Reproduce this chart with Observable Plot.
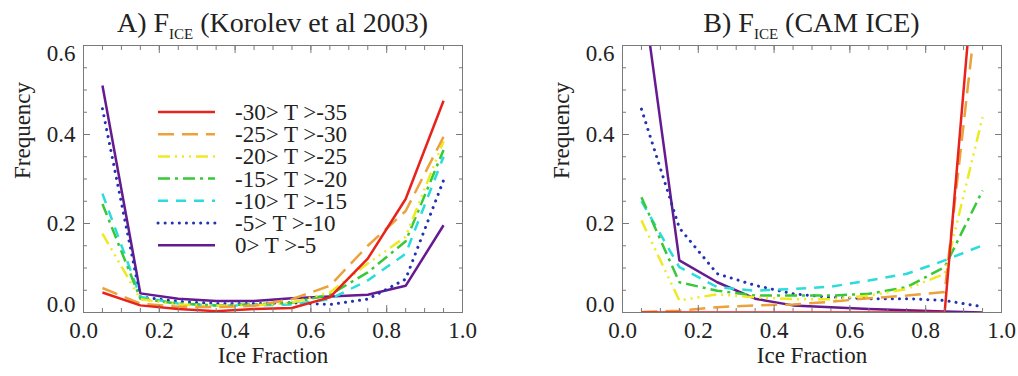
<!DOCTYPE html>
<html>
<head>
<meta charset="utf-8">
<script src="https://cdn.jsdelivr.net/npm/d3@7"></script>
<script src="https://cdn.jsdelivr.net/npm/@observablehq/plot@0.6"></script>
<style>
  body { margin: 0; background: #fff; font-family: "Liberation Serif", serif; color: #222; }
  #wrap { position: relative; width: 1018px; height: 376px; overflow: hidden; }
  .panel { position: absolute; top: 0; }
  .title { position: absolute; top: 9px; height: 28px; line-height: 28px; font-size: 28px; text-align: center; white-space: nowrap; color: #222; }
  .title .sub { font-size: 15px; position: relative; top: 7px; }
  #legend { position: absolute; left: 0; top: 0; pointer-events: none; }
</style>
</head>
<body>
<div id="wrap"></div>
<script>
// ---------- data ----------
const iceFraction = [0.05, 0.15, 0.25, 0.35, 0.45, 0.55, 0.65, 0.75, 0.85, 0.95];
const seriesLabels = ["-30> T >-35", "-25> T >-30", "-20> T >-25", "-15> T >-20", "-10> T >-15", "-5> T >-10", "0> T >-5"];
const seriesColors = ["#e8221c", "#eca23c", "#eeea22", "#38c838", "#2adcdc", "#2233b0", "#661a90"];
const seriesDashes = ["none", "16,8", "12,5,2,5,2,5,2,5", "12,5,3,5", "10,8", "0.1,7", "none"];

// Panel A: Korolev et al 2003
const korolev_m30_m35 = [0.045, 0.016, 0.008, 0.003, 0.008, 0.010, 0.034, 0.121, 0.255, 0.476];
const korolev_m25_m30 = [0.055, 0.020, 0.013, 0.012, 0.015, 0.030, 0.060, 0.150, 0.228, 0.395];
const korolev_m20_m25 = [0.177, 0.030, 0.018, 0.015, 0.016, 0.022, 0.045, 0.110, 0.170, 0.385];
const korolev_m15_m20 = [0.244, 0.031, 0.020, 0.016, 0.018, 0.022, 0.040, 0.090, 0.160, 0.365];
const korolev_m10_m15 = [0.267, 0.035, 0.020, 0.016, 0.016, 0.018, 0.030, 0.072, 0.132, 0.350];
const korolev_m5_m10  = [0.458, 0.035, 0.025, 0.020, 0.020, 0.022, 0.018, 0.030, 0.075, 0.297];
const korolev_0_m5    = [0.510, 0.043, 0.031, 0.026, 0.026, 0.032, 0.036, 0.040, 0.060, 0.196];

// Panel B: CAM ICE
const cam_m30_m35 = [0.000, 0.000, 0.000, 0.000, 0.000, 0.000, 0.000, 0.000, 0.000, 1.000];
const cam_m25_m30 = [0.001, 0.004, 0.012, 0.016, 0.018, 0.024, 0.032, 0.038, 0.046, 0.800];
const cam_m20_m25 = [0.207, 0.027, 0.041, 0.034, 0.030, 0.030, 0.038, 0.053, 0.087, 0.439];
const cam_m15_m20 = [0.259, 0.068, 0.049, 0.038, 0.038, 0.038, 0.042, 0.057, 0.102, 0.274];
const cam_m10_m15 = [0.250, 0.102, 0.057, 0.049, 0.053, 0.058, 0.072, 0.087, 0.117, 0.151];
const cam_m5_m10  = [0.457, 0.190, 0.087, 0.061, 0.042, 0.034, 0.031, 0.031, 0.027, 0.013];
const cam_0_m5    = [0.743, 0.117, 0.068, 0.031, 0.016, 0.012, 0.008, 0.005, 0.002, 0.000];

const xMajorTicks = [0, 0.2, 0.4, 0.6, 0.8, 1.0];
const yMajorTicks = [0, 0.2, 0.4, 0.6];

const korolevSeries = [korolev_m30_m35, korolev_m25_m30, korolev_m20_m25, korolev_m15_m20, korolev_m10_m15, korolev_m5_m10, korolev_0_m5];
const camSeries = [cam_m30_m35, cam_m25_m30, cam_m20_m25, cam_m15_m20, cam_m10_m15, cam_m5_m10, cam_0_m5];

// ---------- drawing ----------
const W = 509, H = 376;
const frameColor = "#7a7a7a";
const textColor = "#222";
const FONT = "Liberation Serif";
const fmt = d3.format(".1f");

function toRows(series) {
  return series.map((vals, s) => vals.map((v, i) => ({x: iceFraction[i], y: v, s})));
}

function makePanel(series, marginLeft, marginRight) {
  const rows = toRows(series);
  const lineMarks = rows.map((r, s) => Plot.line(r, {
    x: "x", y: "y",
    stroke: seriesColors[s],
    strokeWidth: s === 5 ? 3 : 2.5,
    strokeDasharray: seriesDashes[s],
    strokeLinecap: s === 5 ? "round" : "butt",
    strokeLinejoin: "round",
    clip: true
  })).reverse(); // red drawn last, on top
  const tickOpts = {stroke: frameColor, fill: "none", label: null, strokeWidth: 1};
  const labOpts = {tickSize: 0, tickFormat: fmt, label: null, fill: textColor, fontSize: 23, fontFamily: FONT};
  return Plot.plot({
    width: W, height: H,
    marginTop: 45, marginBottom: 64, marginLeft, marginRight,
    style: {fontFamily: FONT, fontSize: "23px", background: "transparent", color: textColor, overflow: "visible"},
    x: {domain: [0, 1]},
    y: {domain: [0, 0.6]},
    marks: [
      ...lineMarks,
      Plot.frame({stroke: frameColor, strokeWidth: 1}),
      // inward ticks on all four sides
      Plot.axisX(d3.range(0, 1.0001, 0.05), {...tickOpts, anchor: "bottom", tickSize: -4}),
      Plot.axisX(d3.range(0, 1.0001, 0.05), {...tickOpts, anchor: "top", tickSize: -4}),
      Plot.axisX(xMajorTicks, {...tickOpts, anchor: "bottom", tickSize: -7}),
      Plot.axisX(xMajorTicks, {...tickOpts, anchor: "top", tickSize: -7}),
      Plot.axisY(d3.range(0, 0.6001, 0.05), {...tickOpts, anchor: "left", tickSize: -4}),
      Plot.axisY(d3.range(0, 0.6001, 0.05), {...tickOpts, anchor: "right", tickSize: -4}),
      Plot.axisY(yMajorTicks, {...tickOpts, anchor: "left", tickSize: -7}),
      Plot.axisY(yMajorTicks, {...tickOpts, anchor: "right", tickSize: -7}),
      // tick labels
      Plot.axisX(xMajorTicks, {...labOpts, anchor: "bottom", tickPadding: 9}),
      Plot.axisY(yMajorTicks.filter(v => v > 0 && v < 0.6), {...labOpts, anchor: "left", tickPadding: 8}),
      Plot.axisY(yMajorTicks.filter(v => v === 0), {...labOpts, anchor: "left", tickPadding: 8, dy: -8}),
      Plot.axisY(yMajorTicks.filter(v => v === 0.6), {...labOpts, anchor: "left", tickPadding: 8, dy: 8}),
      // axis titles
      Plot.text(["Frequency"], {frameAnchor: "left", rotate: -90, dx: -61, fontSize: 23, fontFamily: FONT, fill: textColor}),
      Plot.text(["Ice Fraction"], {frameAnchor: "bottom", dy: 50, fontSize: 23, fontFamily: FONT, fill: textColor})
    ]
  });
}

const wrap = document.getElementById("wrap");
const panels = [
  {series: korolevSeries, ml: 83, mr: 47, left: 0, title: ["A) F", "ICE", " (Korolev et al 2003)"]},
  {series: camSeries, ml: 113, mr: 17, left: 509, title: ["B) F", "ICE", " (CAM ICE)"]}
];
panels.forEach(p => {
  const div = document.createElement("div");
  div.className = "panel";
  div.style.left = p.left + "px";
  div.appendChild(makePanel(p.series, p.ml, p.mr));
  wrap.appendChild(div);
  const t = document.createElement("div");
  t.className = "title";
  t.style.left = (p.left + p.ml) + "px";
  t.style.width = (W - p.ml - p.mr) + "px";
  t.innerHTML = `${p.title[0]}<span class="sub">${p.title[1]}</span>${p.title[2]}`;
  wrap.appendChild(t);
});

// legend inside panel A
const leg = d3.select(wrap).append("svg").attr("id", "legend").attr("width", 1018).attr("height", 376);
const rowG = leg.selectAll("g").data(seriesLabels).join("g")
  .attr("transform", (d, i) => `translate(158, ${112 + i * 22.2})`);
rowG.append("line")
  .attr("x1", 0).attr("x2", 57).attr("y1", 0).attr("y2", 0)
  .attr("stroke", (d, i) => seriesColors[i])
  .attr("stroke-width", (d, i) => i === 5 ? 3 : 2.5)
  .attr("stroke-dasharray", (d, i) => seriesDashes[i])
  .attr("stroke-linecap", (d, i) => i === 5 ? "round" : "butt");
rowG.append("text")
  .attr("x", 77).attr("y", 0).attr("dy", "0.35em")
  .attr("font-family", FONT)
  .attr("font-size", 23)
  .attr("fill", textColor)
  .text(d => d);
</script>
</body>
</html>
